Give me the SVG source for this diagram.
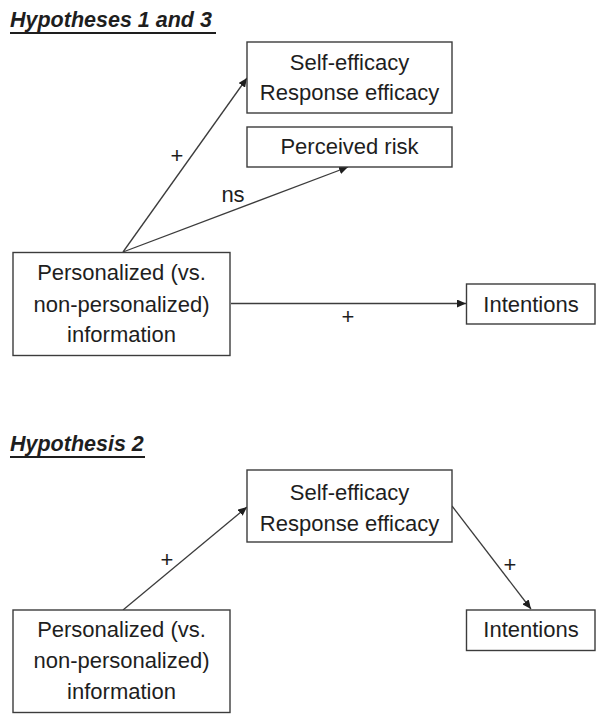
<svg xmlns="http://www.w3.org/2000/svg" width="604" height="722" viewBox="0 0 604 722">
<style>
.box{fill:#fff;stroke:#3c3c3c;stroke-width:1.4}
.t{font-family:"Liberation Sans",Arial,sans-serif;font-size:22px;fill:#1e1e1e;text-anchor:middle}
.h{font-family:"Liberation Sans",Arial,sans-serif;font-size:21.5px;font-weight:bold;font-style:italic;fill:#1e1e1e}
.ul{stroke:#1e1e1e;stroke-width:2}
.c{stroke:#3c3c3c;stroke-width:1.3;fill:none;marker-end:url(#ah)}
</style>
<defs>
<marker id="ah" markerUnits="userSpaceOnUse" markerWidth="10" markerHeight="8" refX="9" refY="4" orient="auto">
<path d="M0,0 L9,4 L0,8 z" fill="#1e1e1e"/>
</marker>
</defs>
<rect width="604" height="722" fill="#fff"/>
<g id="title1">
<text class="h" x="10" y="27">Hypotheses 1 and 3</text>
<line class="ul" x1="10" y1="33" x2="216" y2="33"/>
</g>
<g id="title2">
<text class="h" x="10" y="451">Hypothesis 2</text>
<line class="ul" x1="10" y1="457" x2="145" y2="457"/>
</g>
<g id="connectors">
<line class="c" x1="123" y1="252" x2="247" y2="78"/>
<line class="c" x1="123" y1="252" x2="348" y2="167"/>
<line class="c" x1="231" y1="303.5" x2="466" y2="303.5"/>
<line class="c" x1="123" y1="610" x2="247" y2="507"/>
<line class="c" x1="452" y1="506" x2="531" y2="609"/>
<text class="t" x="177" y="163">+</text>
<text class="t" x="233" y="202">ns</text>
<text class="t" x="348" y="324">+</text>
<text class="t" x="167" y="567">+</text>
<text class="t" x="510" y="572">+</text>
</g>
<g id="se1">
<rect class="box" x="247" y="42" width="205" height="71"/>
<text class="t" x="349.5" y="69.5">Self-efficacy</text>
<text class="t" x="349.5" y="100">Response efficacy</text>
</g>
<g id="risk1">
<rect class="box" x="247" y="127" width="205" height="40"/>
<text class="t" x="349.5" y="153.5">Perceived risk</text>
</g>
<g id="pers1">
<rect class="box" x="13" y="252.5" width="217" height="103"/>
<text class="t" x="121.5" y="279.5">Personalized (vs.</text>
<text class="t" x="121.5" y="311.5">non-personalized)</text>
<text class="t" x="121.5" y="342">information</text>
</g>
<g id="int1">
<rect class="box" x="466.5" y="284" width="128.5" height="40"/>
<text class="t" x="531" y="311.5">Intentions</text>
</g>
<g id="se2">
<rect class="box" x="247" y="470" width="205" height="72"/>
<text class="t" x="349.5" y="500">Self-efficacy</text>
<text class="t" x="349.5" y="530.5">Response efficacy</text>
</g>
<g id="pers2">
<rect class="box" x="13" y="610" width="217" height="102.5"/>
<text class="t" x="121.5" y="637">Personalized (vs.</text>
<text class="t" x="121.5" y="667.5">non-personalized)</text>
<text class="t" x="121.5" y="698.5">information</text>
</g>
<g id="int2">
<rect class="box" x="466.5" y="610" width="128.5" height="40.5"/>
<text class="t" x="531" y="637">Intentions</text>
</g>
</svg>
